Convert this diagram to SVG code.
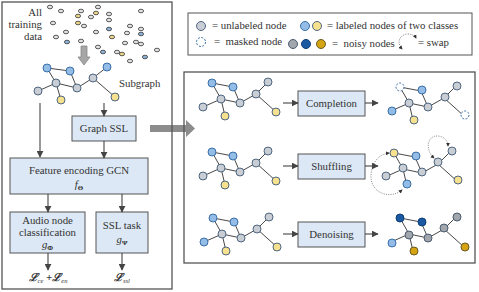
<svg xmlns="http://www.w3.org/2000/svg" width="479" height="292" viewBox="0 0 479 292">
<style>
text{font-family:"Liberation Serif","Times New Roman",serif;font-size:10.8px;fill:#333}
.panel{fill:none;stroke:#555;stroke-width:1.3}
.box{fill:#dce8f5;stroke:#555;stroke-width:1}
.e{fill:none;stroke:#333;stroke-width:0.9}
.u{fill:#c9cdd4;stroke:#4f6683;stroke-width:1}
.b{fill:#93bde6;stroke:#3a6fa8;stroke-width:1}
.y{fill:#f6e28e;stroke:#4f6683;stroke-width:1}
.m{fill:#fff;stroke:#3a6fa8;stroke-width:1;stroke-dasharray:2 1.5}
.ng{fill:#a2a6ad;stroke:#4a5a70;stroke-width:1}
.nb{fill:#1b5aa3;stroke:#0f3d78;stroke-width:1}
.no{fill:#d4a412;stroke:#6a5a25;stroke-width:1}
.d{stroke:#333;stroke-width:0.8}
.dg{fill:#e2e2e2}.dy{fill:#ecd788}.db{fill:#8fb3d8}
.ar{fill:none;stroke:#444;stroke-width:1.1;marker-end:url(#ah)}
.sw{fill:none;stroke:#777;stroke-width:0.9;stroke-dasharray:1 1.3;marker-start:url(#sh);marker-end:url(#sh)}
.sub{font-size:7px}
</style>
<defs>
<marker id="ah" viewBox="0 0 10 10" refX="9" refY="5" markerWidth="7" markerHeight="7" markerUnits="userSpaceOnUse" orient="auto"><path d="M0,0 L10,5 L0,10 z" fill="#444"/></marker>
<marker id="sh" viewBox="0 0 10 10" refX="8" refY="5" markerWidth="4" markerHeight="4" markerUnits="userSpaceOnUse" orient="auto-start-reverse"><path d="M0,0 L10,5 L0,10 z" fill="#333"/></marker>
<path id="edges" d="M0,0 L21,4 M0,0 L9,16 M21,4 L28,20 M9,16 L28,20 M9,16 L-9,24 M9,16 L13,33 M28,20 L44,11 L56,-1 M44,11 L64,29"/>
</defs>

<!-- big gray arrow between panels -->
<polygon points="150,125 186,125 186,120 195,128.5 186,137 186,132 150,132" fill="#8c8c8c"/>

<g id="left-panel">
<rect class="panel" x="2" y="2" width="170" height="287"/>
</g>
<g id="right-panel">
<rect class="panel" x="184" y="72" width="291" height="191"/>
</g>

<g id="training-data">
<text x="42" y="16" text-anchor="end">All</text>
<text x="42" y="28" text-anchor="end">training</text>
<text x="42" y="40" text-anchor="end">data</text>
<g class="d">
<ellipse class="dg" cx="50" cy="7" rx="2.6" ry="1.8"/>
<ellipse class="dg" cx="61" cy="11" rx="2.6" ry="1.8"/>
<ellipse class="dg" cx="81" cy="11" rx="2.6" ry="1.8"/>
<ellipse class="dg" cx="98" cy="7" rx="2.6" ry="1.8"/>
<ellipse class="dy" cx="78" cy="16" rx="2.6" ry="1.8"/>
<ellipse class="dg" cx="91" cy="17" rx="2.6" ry="1.8"/>
<ellipse class="dy" cx="96" cy="13" rx="2.6" ry="1.8"/>
<ellipse class="dg" cx="109" cy="14" rx="2.6" ry="1.8"/>
<ellipse class="dg" cx="109" cy="20" rx="2.6" ry="1.8"/>
<ellipse class="dg" cx="141" cy="11" rx="2.6" ry="1.8"/>
<ellipse class="dg" cx="53" cy="23" rx="2.6" ry="1.8"/>
<ellipse class="dy" cx="78" cy="23" rx="2.6" ry="1.8"/>
<ellipse class="dg" cx="84" cy="26" rx="2.6" ry="1.8"/>
<ellipse class="db" cx="109" cy="29" rx="2.6" ry="1.8"/>
<ellipse class="dg" cx="130" cy="26" rx="2.6" ry="1.8"/>
<ellipse class="dg" cx="141" cy="29" rx="2.6" ry="1.8"/>
<ellipse class="db" cx="141" cy="34" rx="2.6" ry="1.8"/>
<ellipse class="dg" cx="56" cy="37" rx="2.6" ry="1.8"/>
<ellipse class="dg" cx="66" cy="32" rx="2.6" ry="1.8"/>
<ellipse class="dg" cx="96" cy="32" rx="2.6" ry="1.8"/>
<ellipse class="dy" cx="112" cy="37" rx="2.6" ry="1.8"/>
<ellipse class="dg" cx="127" cy="33" rx="2.6" ry="1.8"/>
<ellipse class="db" cx="67" cy="42" rx="2.6" ry="1.8"/>
<ellipse class="dg" cx="81" cy="41" rx="2.6" ry="1.8"/>
<ellipse class="dg" cx="98" cy="47" rx="2.6" ry="1.8"/>
<ellipse class="db" cx="103" cy="52" rx="2.6" ry="1.8"/>
<ellipse class="dg" cx="117" cy="52" rx="2.6" ry="1.8"/>
<ellipse class="dy" cx="122" cy="54" rx="2.6" ry="1.8"/>
<ellipse class="dg" cx="125" cy="43" rx="2.6" ry="1.8"/>
<ellipse class="dg" cx="136" cy="42" rx="2.6" ry="1.8"/>
<ellipse class="dg" cx="141" cy="44" rx="2.6" ry="1.8"/>
<ellipse class="dg" cx="157" cy="50" rx="2.6" ry="1.8"/>
<ellipse class="db" cx="145" cy="57" rx="2.6" ry="1.8"/>
<ellipse class="dg" cx="130" cy="61" rx="2.6" ry="1.8"/>
</g>
<polygon points="81,46 87,46 87,57 90,57 84,65 78,57 81,57" fill="#a6a6a6" stroke="#888" stroke-width="0.8"/>
</g>

<g id="subgraph">
<path class="e" d="M47,68 L70,71 M47,68 L56,83 M70,71 L77,88 M56,83 L77,88 M56,83 L38,91 M56,83 L61,100 M77,88 L93,78 L107,67 M93,78 L115,97"/>
<circle class="b" cx="47" cy="68" r="4"/>
<circle class="b" cx="70" cy="71" r="4"/>
<circle class="u" cx="56" cy="83" r="4"/>
<circle class="u" cx="77" cy="88" r="4"/>
<circle class="u" cx="93" cy="78" r="4"/>
<circle class="b" cx="107" cy="67" r="4"/>
<circle class="u" cx="38" cy="91" r="4"/>
<circle class="y" cx="61" cy="100" r="4"/>
<circle class="y" cx="115" cy="97" r="4"/>
<text x="119" y="87">Subgraph</text>
</g>

<g id="graph-ssl">
<rect class="box" x="72" y="116" width="64" height="25"/>
<text x="104" y="132" text-anchor="middle">Graph SSL</text>
</g>
<g id="feature-gcn">
<rect class="box" x="10" y="158" width="138" height="36"/>
<text x="79" y="174" text-anchor="middle">Feature encoding GCN</text>
<text x="79" y="188" text-anchor="middle"><tspan font-style="italic">f</tspan><tspan class="sub" font-weight="bold" dy="1.5">Θ</tspan></text>
</g>
<g id="audio-cls">
<rect class="box" x="10" y="212" width="75" height="41"/>
<text x="47.5" y="224" text-anchor="middle">Audio node</text>
<text x="47.5" y="236" text-anchor="middle">classification</text>
<text x="47.5" y="248" text-anchor="middle"><tspan font-style="italic">g</tspan><tspan class="sub" font-weight="bold" dy="1.5">Φ</tspan></text>
</g>
<g id="ssl-task">
<rect class="box" x="96" y="212" width="52" height="41"/>
<text x="122" y="229" text-anchor="middle">SSL task</text>
<text x="122" y="243" text-anchor="middle"><tspan font-style="italic">g</tspan><tspan class="sub" font-weight="bold" dy="1.5">Ψ</tspan></text>
</g>
<g id="loss-main">
<text x="48" y="281" text-anchor="middle" font-weight="bold" font-style="italic" font-size="12">ℒ<tspan font-size="6.5" font-weight="normal" dy="2">ce</tspan><tspan dy="-2"> +ℒ</tspan><tspan font-size="6.5" font-weight="normal" dy="2">en</tspan></text>
</g>
<g id="loss-ssl">
<text x="122" y="281" text-anchor="middle" font-weight="bold" font-style="italic" font-size="12">ℒ<tspan font-size="6.5" font-weight="normal" dy="2">ssl</tspan></text>
</g>

<g id="legend">
<rect x="188" y="13" width="284" height="42" fill="#fff" stroke="#555" stroke-width="1"/>
<circle class="u" cx="201" cy="26" r="4.5"/>
<text x="212" y="29">= unlabeled node</text>
<circle class="b" cx="305" cy="26" r="4.5"/>
<circle class="y" cx="317" cy="26" r="4.5"/>
<text x="327" y="29">= labeled nodes of two classes</text>
<circle class="m" cx="201" cy="42" r="4.5"/>
<text x="214" y="45" xml:space="preserve">=  masked node</text>
<circle class="ng" cx="293" cy="44" r="4.5"/>
<circle class="nb" cx="306" cy="44" r="4.5"/>
<circle class="no" cx="321" cy="44" r="4.5"/>
<text x="332" y="47" xml:space="preserve">=  noisy nodes</text>
<path class="sw" d="M402,49 C396,42 400,34 408,34 C412,34 415,36 416,38"/>
<text x="418" y="46">= swap</text>
</g>

<g id="completion-in" transform="translate(212,83)">
<use href="#edges" class="e"/>
<circle class="b" cx="0" cy="0" r="4"/>
<circle class="b" cx="21" cy="4" r="4"/>
<circle class="u" cx="9" cy="16" r="4"/>
<circle class="u" cx="28" cy="20" r="4"/>
<circle class="u" cx="44" cy="11" r="4"/>
<circle class="u" cx="56" cy="-1" r="4"/>
<circle class="u" cx="-9" cy="24" r="4"/>
<circle class="y" cx="13" cy="33" r="4"/>
<circle class="y" cx="64" cy="29" r="4"/>
</g>
<g id="completion">
<rect class="box" x="298" y="91" width="67" height="25"/>
<text x="331.5" y="107" text-anchor="middle">Completion</text>
</g>
<g id="completion-out" transform="translate(400,87)">
<use href="#edges" class="e"/>
<circle class="m" cx="0" cy="0" r="4"/>
<circle class="b" cx="22" cy="3" r="4"/>
<circle class="u" cx="9" cy="16" r="4"/>
<circle class="u" cx="28" cy="20" r="4"/>
<circle class="u" cx="45" cy="10" r="4"/>
<circle class="u" cx="57" cy="-1" r="4"/>
<circle class="b" cx="-8" cy="24" r="4"/>
<circle class="y" cx="14" cy="33" r="4"/>
<circle class="m" cx="65" cy="28" r="4"/>
</g>

<g id="shuffling-in" transform="translate(212,152)">
<use href="#edges" class="e"/>
<circle class="b" cx="0" cy="0" r="4"/>
<circle class="b" cx="21" cy="4" r="4"/>
<circle class="u" cx="9" cy="16" r="4"/>
<circle class="u" cx="28" cy="20" r="4"/>
<circle class="u" cx="44" cy="11" r="4"/>
<circle class="u" cx="56" cy="-1" r="4"/>
<circle class="u" cx="-9" cy="24" r="4"/>
<circle class="y" cx="13" cy="33" r="4"/>
<circle class="y" cx="64" cy="29" r="4"/>
</g>
<g id="shuffling">
<rect class="box" x="298" y="154" width="67" height="25"/>
<text x="331.5" y="170" text-anchor="middle">Shuffling</text>
</g>
<g id="shuffling-out" transform="translate(394,153)">
<use href="#edges" class="e"/>
<circle class="y" cx="0" cy="0" r="4"/>
<circle class="b" cx="22" cy="3" r="4"/>
<circle class="u" cx="9" cy="15" r="4"/>
<circle class="u" cx="28" cy="19" r="4"/>
<circle class="u" cx="44" cy="9" r="4"/>
<circle class="u" cx="58" cy="-2" r="4"/>
<circle class="u" cx="-8" cy="23" r="4"/>
<circle class="b" cx="13" cy="31" r="4"/>
<circle class="y" cx="64" cy="27" r="4"/>
<path class="sw" d="M8,37 C-4,47 -24,40 -23,22 C-22,8 -14,1 -5,0"/>
<path class="sw" d="M40,5 C31,-3 33,-17 43,-17 C50,-17 54,-12 54,-7"/>
</g>

<g id="denoising-in" transform="translate(213,218)">
<use href="#edges" class="e"/>
<circle class="b" cx="0" cy="0" r="4"/>
<circle class="b" cx="21" cy="4" r="4"/>
<circle class="u" cx="9" cy="16" r="4"/>
<circle class="u" cx="28" cy="20" r="4"/>
<circle class="u" cx="44" cy="11" r="4"/>
<circle class="u" cx="56" cy="-1" r="4"/>
<circle class="b" cx="-9" cy="24" r="4"/>
<circle class="y" cx="13" cy="33" r="4"/>
<circle class="y" cx="64" cy="29" r="4"/>
</g>
<g id="denoising">
<rect class="box" x="298" y="222" width="67" height="25"/>
<text x="331.5" y="238" text-anchor="middle">Denoising</text>
</g>
<g id="denoising-out" transform="translate(400,218)">
<use href="#edges" class="e"/>
<circle class="nb" cx="0" cy="0" r="4"/>
<circle class="nb" cx="22" cy="4" r="4"/>
<circle class="ng" cx="9" cy="17" r="4"/>
<circle class="ng" cx="28" cy="20" r="4"/>
<circle class="ng" cx="44" cy="10" r="4"/>
<circle class="ng" cx="57" cy="-1" r="4"/>
<circle class="b" cx="-8" cy="25" r="4"/>
<circle class="no" cx="14" cy="33" r="4"/>
<circle class="no" cx="65" cy="29" r="4"/>
</g>

<g id="connectors">
<line class="ar" x1="40" y1="103" x2="40" y2="157"/>
<line class="ar" x1="104" y1="103" x2="104" y2="116"/>
<line class="ar" x1="104" y1="141" x2="104" y2="158"/>
<line class="ar" x1="48" y1="194" x2="48" y2="212"/>
<line class="ar" x1="122" y1="194" x2="122" y2="212"/>
<line class="ar" x1="48" y1="253" x2="48" y2="270"/>
<line class="ar" x1="122" y1="253" x2="122" y2="270"/>
<line class="ar" x1="283" y1="103" x2="298" y2="103"/>
<line class="ar" x1="365" y1="103" x2="378" y2="103"/>
<line class="ar" x1="283" y1="166" x2="298" y2="166"/>
<line class="ar" x1="365" y1="166" x2="378" y2="166"/>
<line class="ar" x1="283" y1="234" x2="298" y2="234"/>
<line class="ar" x1="365" y1="234" x2="378" y2="234"/>
</g>
</svg>
